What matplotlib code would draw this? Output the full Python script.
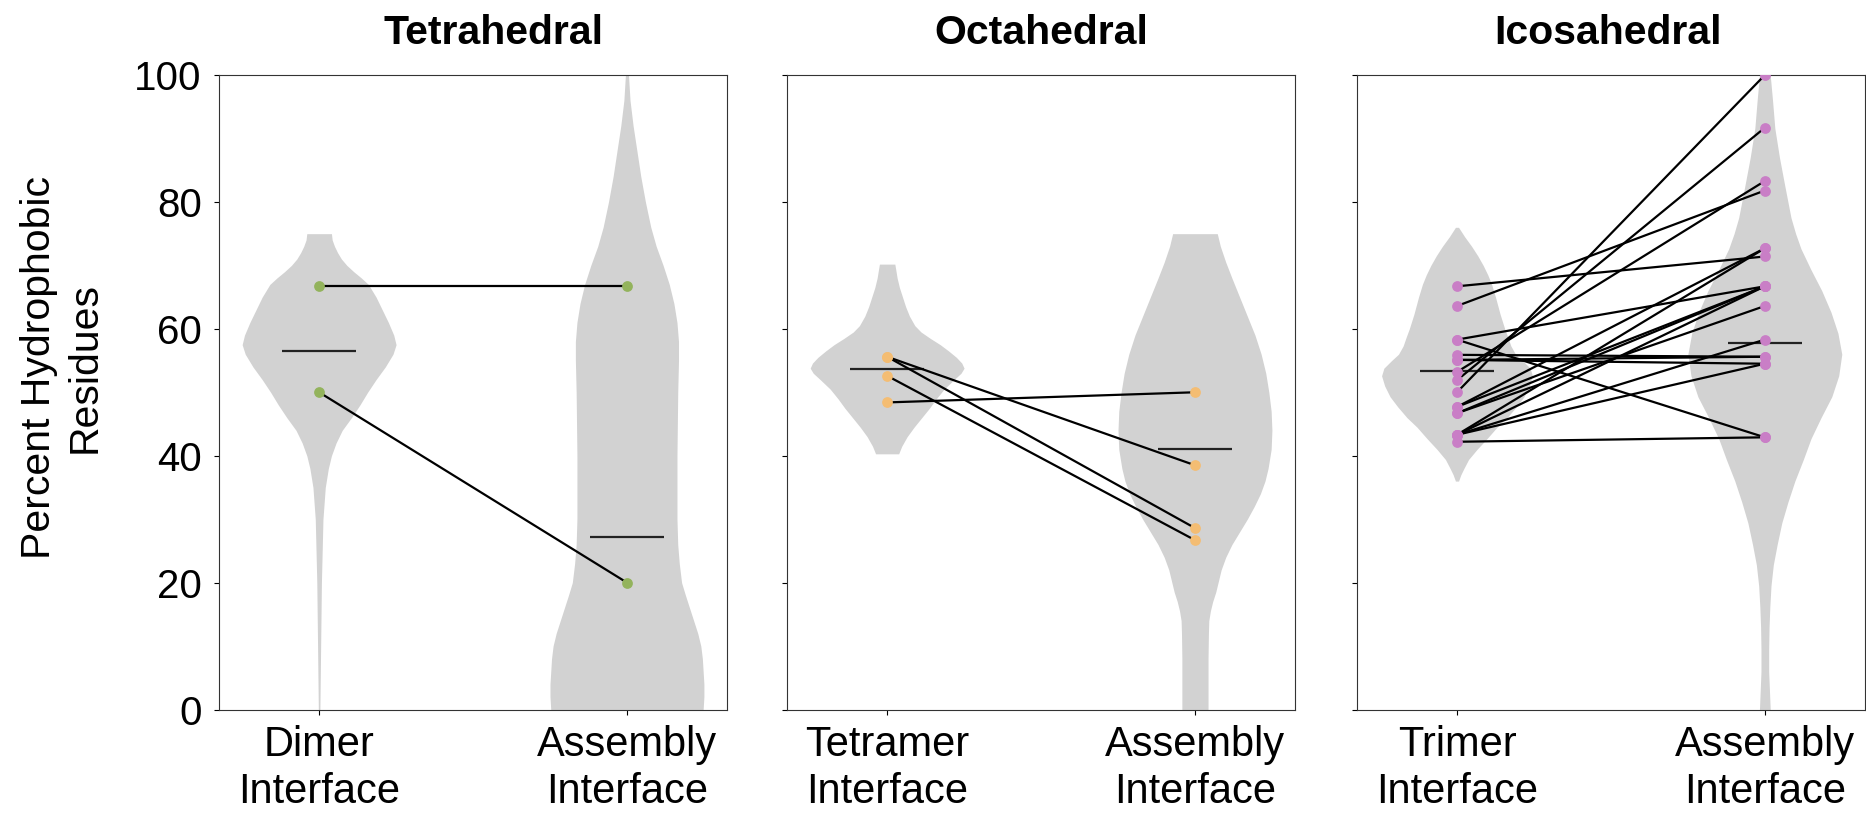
import numpy as np
import matplotlib
matplotlib.use('Agg')
import matplotlib.pyplot as plt

plt.rcParams['font.family'] = ['Liberation Sans', 'DejaVu Sans']

# 面板标题与类别
panel_titles = ['Tetrahedral', 'Octahedral', 'Icosahedral']
tick_labels = [['Dimer\nInterface', 'Assembly\nInterface'],
               ['Tetramer\nInterface', 'Assembly\nInterface'],
               ['Trimer\nInterface', 'Assembly\nInterface']]
dot_colors = ['#93b35c', '#f4bd73', '#c97ec6']

# 配对数据点 (界面 -> 组装界面)
tetra_dimer = [66.7, 50.0]
tetra_assembly = [66.7, 20.0]

octa_tetramer = [48.4, 55.6, 55.6, 52.6]
octa_assembly = [50.0, 38.5, 28.6, 26.7]

icosa_trimer = [66.7, 63.6, 58.3, 58.3, 55.9, 55.1, 55.1, 53.2, 51.9, 50.0,
                47.7, 47.7, 46.7, 46.7, 43.3, 43.3, 43.3, 42.2, 43.3]
icosa_assembly = [71.4, 81.8, 42.9, 66.7, 55.6, 54.5, 55.6, 83.3, 91.7, 100.0,
                  72.7, 66.7, 63.6, 66.7, 58.3, 66.7, 54.5, 42.9, 72.7]

# 中位数横线
medians = [[56.5, 27.2], [53.6, 41.0], [53.3, 57.7]]

# 小提琴轮廓 (y 值, 相对半宽)
tetra_dimer_vy = [0, 10, 20, 30, 35, 38, 40, 42, 44, 46, 48, 50, 52, 54, 56, 57.5, 59, 61, 63, 65,
                  67, 68, 69, 70, 71, 72, 73, 74, 75]
tetra_dimer_vw = [0.01, 0.02, 0.03, 0.05, 0.08, 0.12, 0.16, 0.22, 0.3, 0.42, 0.53, 0.63, 0.74, 0.86,
                  0.96, 1.0, 0.97, 0.9, 0.82, 0.74, 0.64, 0.55, 0.45, 0.36, 0.29, 0.24, 0.2, 0.17, 0.16]
tetra_asm_vy = [0, 2, 4, 6, 8, 10, 12, 15, 18, 20, 23, 26, 30, 40, 50, 55, 58, 61, 64, 67, 70,
                73, 76, 80, 84, 88, 92, 96, 100]
tetra_asm_vw = [0.99, 1.0, 1.0, 0.99, 0.98, 0.96, 0.92, 0.84, 0.76, 0.71, 0.68, 0.66, 0.65, 0.65,
                0.66, 0.67, 0.67, 0.65, 0.61, 0.55, 0.47, 0.38, 0.31, 0.24, 0.18, 0.13, 0.08, 0.04, 0.02]

octa_tet_vy = [40.3, 41.5, 43, 44.5, 46, 47.5, 49, 50.5, 52, 53, 53.8, 54.6, 55.5, 56.5, 57.5,
               58.5, 59.5, 60.5, 62, 63.5, 65, 66.5, 68, 69.5, 70.2]
octa_tet_vw = [0.15, 0.19, 0.26, 0.35, 0.45, 0.55, 0.64, 0.74, 0.87, 0.96, 1.0, 0.97, 0.9, 0.8,
               0.69, 0.56, 0.44, 0.36, 0.29, 0.24, 0.2, 0.16, 0.13, 0.11, 0.1]
octa_asm_vy = [0, 8, 12, 14, 15.5, 17, 18.5, 20, 22, 24, 26, 28, 30, 32, 34, 36, 38, 41, 44, 47,
               50, 53, 56, 59, 62, 65, 68, 70.5, 73, 75]
octa_asm_vw = [0.17, 0.17, 0.175, 0.18, 0.2, 0.23, 0.27, 0.3, 0.34, 0.4, 0.48, 0.58, 0.68, 0.77,
               0.85, 0.91, 0.95, 0.99, 1.0, 0.99, 0.96, 0.92, 0.86, 0.78, 0.68, 0.58, 0.48, 0.4,
               0.33, 0.29]

icosa_tri_vy = [36, 37, 38, 39.4, 41, 42.7, 44.5, 46, 47.7, 49.3, 51, 52.6, 53.8, 55, 56, 57.3,
                58.7, 60, 62.3, 65, 67, 68.5, 70, 71.5, 73, 74.5, 76]
icosa_tri_vw = [0.02, 0.05, 0.09, 0.15, 0.26, 0.39, 0.52, 0.65, 0.77, 0.87, 0.94, 0.98, 0.95, 0.85,
                0.76, 0.7, 0.66, 0.62, 0.56, 0.5, 0.45, 0.4, 0.34, 0.27, 0.19, 0.1, 0.02]
icosa_asm_vy = [0, 3, 6, 9.5, 13, 16.2, 19.5, 22.8, 26, 29.4, 32.7, 36, 39.4, 42.7, 46, 49.3, 52.6,
                56, 59.3, 62.6, 66, 69.3, 72.6, 75, 77.5, 80, 82.5, 87, 91.6, 96, 100]
icosa_asm_vw = [0.07, 0.06, 0.05, 0.05, 0.055, 0.065, 0.08, 0.11, 0.16, 0.22, 0.3, 0.39, 0.5, 0.6,
                0.73, 0.87, 0.96, 1.0, 0.95, 0.86, 0.74, 0.6, 0.47, 0.4, 0.34, 0.3, 0.26, 0.19,
                0.13, 0.1, 0.07]

pairs = [(tetra_dimer, tetra_assembly), (octa_tetramer, octa_assembly), (icosa_trimer, icosa_assembly)]
violins = [[(tetra_dimer_vy, tetra_dimer_vw), (tetra_asm_vy, tetra_asm_vw)],
           [(octa_tet_vy, octa_tet_vw), (octa_asm_vy, octa_asm_vw)],
           [(icosa_tri_vy, icosa_tri_vw), (icosa_asm_vy, icosa_asm_vw)]]

fig = plt.figure(figsize=(18.66, 8.13), dpi=100)
lefts = [0.1174, 0.4218, 0.7272]
title_x = [0.541, 0.5, 0.495]
positions = [1, 2]

for i in range(3):
    ax = fig.add_axes([lefts[i], 0.1273, 0.2722, 0.7804])

    # 小提琴
    for pos, (vy, vw) in zip(positions, violins[i]):
        vw = np.array(vw) * 0.25
        ax.fill_betweenx(vy, pos - vw, pos + vw, color='#d2d2d2', lw=0, zorder=1)

    # 中位数
    for pos, m in zip(positions, medians[i]):
        ax.hlines(m, pos - 0.12, pos + 0.12, color='#222222', lw=1.6, zorder=2)

    # 配对连线
    left, right = pairs[i]
    for a, b in zip(left, right):
        ax.plot(positions, [a, b], color='black', lw=1.6, zorder=3)
    ax.scatter([1] * len(left), left, s=60, color=dot_colors[i], zorder=4, lw=0)
    ax.scatter([2] * len(right), right, s=60, color=dot_colors[i], zorder=4, lw=0)

    ax.set_xlim(0.675, 2.325)
    ax.set_ylim(0, 100)
    ax.set_xticks(positions)
    ax.set_xticklabels(tick_labels[i], fontsize=30, linespacing=1.2)
    ax.set_yticks([0, 20, 40, 60, 80, 100])
    ax.tick_params(axis='y', labelsize=29, pad=9)
    ax.tick_params(axis='x', pad=8)
    if i > 0:
        ax.set_yticklabels([])
    else:
        ax.set_ylabel('Percent Hydrophobic\nResidues', fontsize=29.5, linespacing=1.25)
        ax.yaxis.set_label_coords(-0.227, 0.539)
    ax.set_title(panel_titles[i], fontsize=29.5, fontweight='bold', pad=22, x=title_x[i])
    for sp in ax.spines.values():
        sp.set_color('#333333')

plt.savefig('out.png', dpi=100)
